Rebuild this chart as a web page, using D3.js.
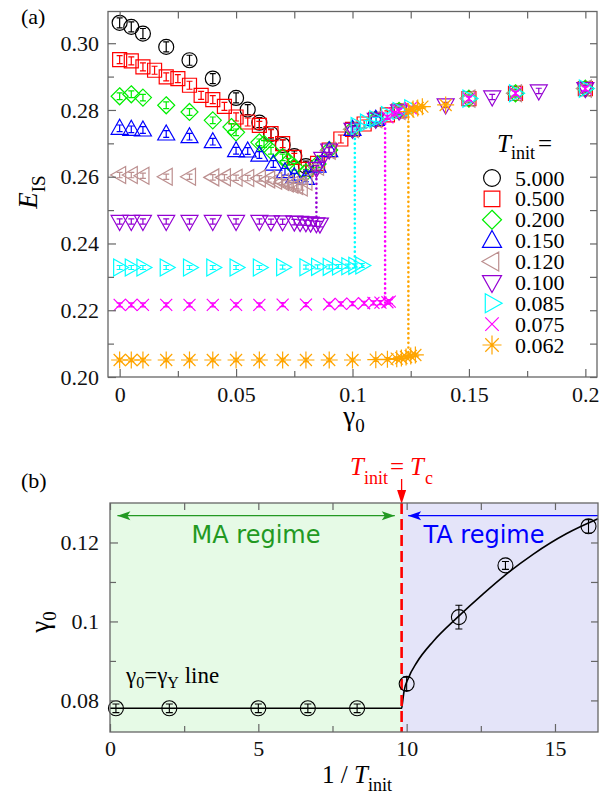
<!DOCTYPE html>
<html>
<head>
<meta charset="utf-8">
<script src="https://cdn.jsdelivr.net/npm/d3@7"></script>
<style>
body { margin: 0; background: #fff; }
svg { display: block; }
svg text { font-family: 'Liberation Serif', 'DejaVu Serif', serif; }
svg text.sans { font-family: 'DejaVu Sans', Verdana, sans-serif; }
</style>
</head>
<body>
<svg id="chart" width="613" height="798"></svg>
<script>
// ---- data, panel (a): E_IS vs gamma0 for each T_init ----
const temps = ['5.000', '0.500', '0.200', '0.150', '0.120', '0.100', '0.085', '0.075', '0.062'];

const s5000 = [[0,.3061],[.005,.3049],[.01,.3029],[.02,.2989],[.03,.2949],[.04,.2894],[.05,.2836],[.055,.2801],
	[.06,.2762],[.065,.2728],[.07,.2695],[.075,.2662],[.08,.2632]];
const s0500 = [[0,.2951],[.005,.2947],[.01,.2929],[.015,.2919],[.02,.2899],[.025,.2894],[.03,.2874],[.035,.2844],
	[.04,.2831],[.045,.2811],[.05,.2779],[.055,.2764],[.06,.2754],[.065,.2729],[.07,.2699],[.075,.2658],[.08,.2622],
	[.085,.2640],[.09,.2680],[.095,.2713],[.1,.2742],[.105,.2758],[.11,.2772],[.115,.2785],[.12,.2797],
	[.15,.2834],[.17,.2850],[.2,.2864]];
const s0200 = [[0,.2841],[.005,.2847],[.01,.2837],[.02,.2814],[.03,.2794],[.04,.2769],[.048,.2749],[.05,.2733],
	[.06,.2703],[.062,.2698],[.065,.2678],[.07,.2658],[.0725,.2645],[.075,.2630],[.08,.2612],[.085,.2638],
	[.09,.2680],[.1,.2742],[.11,.2772],[.12,.2797],[.15,.2834],[.17,.2850],[.2,.2864]];
const s0150 = [[0,.2745],[.005,.2742],[.01,.2740],[.02,.2728],[.03,.2720],[.04,.2705],[.05,.2678],[.055,.2677],
	[.06,.2665],[.066,.2638],[.071,.2615],[.075,.2600],[.08,.2595],[.085,.2632],[.09,.2678],[.1,.2742],[.11,.2772]];
const s0120 = [[0,.2605],[.005,.2605],[.01,.2603],[.02,.2600],[.03,.2600],[.04,.2598],[.045,.2598],[.05,.2597],
	[.055,.2596],[.06,.2595],[.064,.2592],[.067,.2588],[.07,.2584],[.072,.2580],[.074,.2576],[.076,.2572],
	[.078,.2568],[.08,.2585],[.085,.2630],[.09,.2678],[.1,.2742],[.11,.2772],[.12,.2797],[.15,.2834],
	[.17,.2850],[.2,.2864]];
const s0100 = [[0,.2466],[.005,.2466],[.01,.2466],[.02,.2466],[.03,.2466],[.04,.2466],[.05,.2466],[.06,.2466],
	[.065,.2465],[.07,.2465],[.075,.2464],[.0775,.2463],[.08,.2462],[.082,.2461],[.0845,.2459],[.086,.2458],
	[.0845,.2625],[.087,.2655],[.09,.2680],[.1,.2742],[.11,.2772],[.12,.2797],[.14,.2815],[.16,.2839],
	[.18,.2857],[.2,.2864]];
const s0085 = [[0,.2328],[.005,.2328],[.01,.2328],[.02,.2328],[.03,.2328],[.04,.2328],[.05,.2328],[.06,.2328],
	[.07,.2329],[.08,.2329],[.085,.2330],[.09,.2330],[.094,.2331],[.098,.2332],[.101,.2333],[.104,.2334],
	[.102,.2752],[.106,.2762],[.11,.2772],[.115,.2785],[.12,.2797],[.125,.2805],[.15,.2834],[.17,.2850],[.2,.2864]];
const s0075 = [[0,.2216],[.005,.2216],[.01,.2216],[.02,.2216],[.03,.2216],[.04,.2216],[.05,.2216],[.06,.2216],
	[.07,.2217],[.08,.2217],[.09,.2218],[.095,.2219],[.1,.2220],[.105,.2221],[.109,.2222],[.112,.2223],
	[.115,.2224],[.116,.2226],[.115,.2778],[.118,.2790],[.12,.2797],[.125,.2805],[.15,.2834],[.17,.2850],[.2,.2864]];
const s0062 = [[0,.2051],[.005,.2051],[.01,.2051],[.02,.2051],[.03,.2051],[.04,.2051],[.05,.2051],[.06,.2051],
	[.07,.2051],[.08,.2051],[.09,.2051],[.1,.2051],[.11,.2052],[.115,.2053],[.119,.2055],[.121,.2057],
	[.123,.2060],[.125,.2063],[.127,.2066],[.124,.2795],[.126,.2803],[.128,.2806],[.13,.2810],[.14,.2815]];
const seriesA = [s5000, s0500, s0200, s0150, s0120, s0100, s0085, s0075, s0062];
const errA = [0.0015, 0.0012, 0.001, 0.001, 0.0008, 0.0008, 0.0006, 0.0006, 0.0005];

// vertical jumps at the yield point (gamma, lower E, upper E) for T = 0.100, 0.085, 0.075, 0.062
const jumpSeries = [5, 6, 7, 8];
const jumpGamma = [0.0845, 0.101, 0.114, 0.124];
const jumpLow = [0.2466, 0.2333, 0.2223, 0.2060];
const jumpHigh = [0.2625, 0.2745, 0.2778, 0.2795];

const xTicksA = [0, 0.05, 0.1, 0.15, 0.2];
const xTickLabelsA = ['0', '0.05', '0.1', '0.15', '0.2'];
const xMinorA = [0.025, 0.075, 0.125, 0.175];
const yTicksA = [0.2, 0.22, 0.24, 0.26, 0.28, 0.3];
const yTickLabelsA = ['0.20', '0.22', '0.24', '0.26', '0.28', '0.30'];
const yMinorA = [0.21, 0.23, 0.25, 0.27, 0.29];

// ---- data, panel (b): gamma0 at the yield vs 1/T_init ----
const invT = [0.2, 2, 5, 6.67, 8.33, 10, 11.76, 13.33, 16.13];
const gammaYield = [0.0780, 0.0780, 0.0780, 0.0780, 0.0780, 0.0842, 0.1011, 0.1142, 0.1241];
const gammaErr = [0.0011, 0.0011, 0.0011, 0.0011, 0.0011, 0.0017, 0.003, 0.001, 0.0017];
const invTc = 9.83;
// guide line
const fitX = [0, 9.83, 9.87, 9.91, 10.06, 10.34, 10.9, 11.72, 12.58, 13.28, 14.26, 15.38, 16.45];
const fitY = [0.0780, 0.0780, 0.0800, 0.0822, 0.0857, 0.0896, 0.0950, 0.1011, 0.1070, 0.1115, 0.1170, 0.1222, 0.1260];

const xTicksB = [0, 5, 10, 15];
const xTickLabelsB = ['0', '5', '10', '15'];
const xMinorB = [2.5, 7.5, 12.5];
const yTicksB = [0.08, 0.1, 0.12];
const yTickLabelsB = ['0.08', '0.1', '0.12'];
const yMinorB = [0.09, 0.11];

// ---- style ----
const colors = ['#000000', '#ff0000', '#00ee00', '#0000ff', '#bc8f8f', '#9400d3', '#00ffff', '#ff00ff', '#ffa500'];
const shapes = ['circle', 'square', 'diamond', 'up', 'left', 'down', 'right', 'x', 'star'];

const svg = d3.select('#chart');

function markerPath(kind, k) {
	const a = 8.5 * k, b = 9 * k, c = 6 * k;
	switch (kind) {
		case 'circle': { const r = 7.5 * k; return `M${r},0A${r},${r} 0 1,1 ${-r},0A${r},${r} 0 1,1 ${r},0Z`; }
		case 'square': { const h = 7 * k; return `M${-h},${-h}H${h}V${h}H${-h}Z`; }
		case 'diamond': { const h = 8.5 * k; return `M0,${-h}L${h},0L0,${h}L${-h},0Z`; }
		case 'up': return `M0,${-b}L${a},${c}L${-a},${c}Z`;
		case 'down': return `M0,${b}L${a},${-c}L${-a},${-c}Z`;
		case 'left': return `M${-b},0L${c},${-a}L${c},${a}Z`;
		case 'right': return `M${b},0L${-c},${-a}L${-c},${a}Z`;
		case 'x': { const h = 6 * k; return `M${-h},${-h}L${h},${h}M${-h},${h}L${h},${-h}`; }
		case 'star': {
			const h = 8.5 * k, d = 6 * k;
			return `M${-h},0H${h}M0,${-h}V${h}M${-d},${-d}L${d},${d}M${-d},${d}L${d},${-d}`;
		}
	}
}

function errPath(x0, yLo, yHi, w) {
	return `M${x0 - w},${yLo}H${x0 + w}M${x0},${yLo}V${yHi}M${x0 - w},${yHi}H${x0 + w}`;
}

// frame with inward ticks on all four sides
function drawAxes(x, y, o) {
	const g = svg.append('g');
	const [x0, x1] = x.range(), [y0, y1] = y.range();
	const add = (axis, tr) => {
		const a = g.append('g').attr('transform', tr).call(axis);
		a.attr('font-family', null);
		a.select('.domain').remove();
		a.selectAll('line').attr('stroke', '#666').attr('stroke-width', 1.2);
		a.selectAll('text').attr('font-size', 22).attr('fill', '#111');
		return a;
	};
	add(d3.axisBottom(x).tickValues(o.xMaj).tickSize(-8).tickPadding(o.padX)
		.tickFormat((d, i) => o.xLab[i]), `translate(0,${y0})`);
	add(d3.axisBottom(x).tickValues(o.xMin).tickSize(-6).tickFormat(''), `translate(0,${y0})`);
	add(d3.axisTop(x).tickValues(o.xMaj.concat(o.xMin)).tickSize(-7).tickFormat(''), `translate(0,${y1})`);
	add(d3.axisLeft(y).tickValues(o.yMaj).tickSize(-8).tickPadding(o.padY)
		.tickFormat((d, i) => o.yLab[i]), `translate(${x0},0)`);
	add(d3.axisLeft(y).tickValues(o.yMin).tickSize(-6).tickFormat(''), `translate(${x0},0)`);
	add(d3.axisRight(y).tickValues(o.yMaj.concat(o.yMin)).tickSize(-7).tickFormat(''), `translate(${x1},0)`);
	g.append('rect').attr('x', x0).attr('y', y1).attr('width', x1 - x0).attr('height', y0 - y1)
		.attr('fill', 'none').attr('stroke', '#666').attr('stroke-width', 1.3);
}

// ================= panel (a) =================
const xA = d3.scaleLinear().domain([-0.005, 0.205]).range([108, 597]);
const yA = d3.scaleLinear().domain([0.2, 0.3095]).range([377, 11.5]);

const gA = svg.append('g');

// dotted yield jumps
gA.selectAll('line.jump')
	.data(jumpGamma)
	.join('line')
	.attr('class', 'jump')
	.attr('x1', d => xA(d)).attr('x2', d => xA(d))
	.attr('y1', (d, i) => yA(jumpLow[i])).attr('y2', (d, i) => yA(jumpHigh[i]))
	.attr('stroke', (d, i) => colors[jumpSeries[i]])
	.attr('stroke-width', 2.6)
	.attr('stroke-linecap', 'round')
	.attr('stroke-dasharray', '0.1 4.6');

seriesA.forEach((s, i) => {
	const gs = gA.append('g')
		.attr('stroke', colors[i])
		.attr('fill', 'none')
		.attr('stroke-width', 1.2);
	gs.selectAll('path.mk')
		.data(s)
		.join('path')
		.attr('class', 'mk')
		.attr('d', markerPath(shapes[i], 1))
		.attr('transform', d => `translate(${xA(d[0])},${yA(d[1])})`);
	gs.selectAll('path.eb')
		.data(s)
		.join('path')
		.attr('class', 'eb')
		.attr('d', d => errPath(xA(d[0]), yA(d[1] - errA[i]), yA(d[1] + errA[i]), 3));
});

drawAxes(xA, yA, {xMaj: xTicksA, xMin: xMinorA, xLab: xTickLabelsA, padX: 9,
	yMaj: yTicksA, yMin: yMinorA, yLab: yTickLabelsA, padY: 9});

// legend
const legY = d3.scaleLinear().domain([0, 8]).range([178, 345]);
const leg = svg.append('g');
leg.append('text')
	.attr('x', 497).attr('y', 152)
	.attr('font-size', 25)
	.call(t => {
		t.append('tspan').attr('font-style', 'italic').text('T');
		t.append('tspan').attr('font-size', 18).attr('dy', 7).text('init');
		t.append('tspan').attr('dy', -7).attr('dx', 3).text('=');
	});
temps.forEach((t, i) => {
	leg.append('path')
		.attr('d', markerPath(shapes[i], 1.12))
		.attr('transform', `translate(492,${legY(i)})`)
		.attr('fill', 'none').attr('stroke', colors[i]).attr('stroke-width', 1.2);
	leg.append('text')
		.attr('x', 515).attr('y', legY(i) + 7.5)
		.attr('font-size', 22)
		.text(t);
});

// labels (a)
svg.append('text').attr('x', 21).attr('y', 24)
	.attr('font-size', 22).text('(a)');
svg.append('text')
	.attr('transform', 'translate(37,192) rotate(-90)')
	.attr('text-anchor', 'middle')
	.attr('font-size', 27)
	.call(t => {
		t.append('tspan').attr('font-style', 'italic').text('E');
		t.append('tspan').attr('font-size', 19).attr('dy', 8).text('IS');
	});
svg.append('text')
	.attr('x', 354).attr('y', 425)
	.attr('text-anchor', 'middle')
	.attr('font-size', 27)
	.call(t => {
		t.append('tspan').text('γ');
		t.append('tspan').attr('font-size', 19).attr('dy', 7).text('0');
	});

// ================= panel (b) =================
const xB = d3.scaleLinear().domain([0, 16.45]).range([110, 598]);
const yB = d3.scaleLinear().domain([0.072, 0.13]).range([732, 503]);

const gB = svg.append('g');
gB.append('rect')
	.attr('x', xB(0)).attr('y', yB(0.13))
	.attr('width', xB(invTc) - xB(0)).attr('height', yB(0.072) - yB(0.13))
	.attr('fill', '#e6fae6');
gB.append('rect')
	.attr('x', xB(invTc)).attr('y', yB(0.13))
	.attr('width', xB(16.45) - xB(invTc)).attr('height', yB(0.072) - yB(0.13))
	.attr('fill', '#e4e4f9');

drawAxes(xB, yB, {xMaj: xTicksB, xMin: xMinorB, xLab: xTickLabelsB, padX: 8,
	yMaj: yTicksB, yMin: yMinorB, yLab: yTickLabelsB, padY: 11});

// guide line
const fitLine = d3.line()
	.x(d => xB(d[0]))
	.y(d => yB(d[1]))
	.curve(d3.curveMonotoneX);
gB.append('path')
	.datum(fitX.map((v, i) => [v, fitY[i]]))
	.attr('d', fitLine)
	.attr('fill', 'none').attr('stroke', '#000').attr('stroke-width', 1.6);

// T_init = T_c
gB.append('line')
	.attr('x1', xB(invTc)).attr('x2', xB(invTc))
	.attr('y1', yB(0.13)).attr('y2', yB(0.072))
	.attr('stroke', '#ff0000').attr('stroke-width', 2.6)
	.attr('stroke-dasharray', '11 5');

// data points
gB.selectAll('circle.pt')
	.data(invT)
	.join('circle')
	.attr('class', 'pt')
	.attr('cx', d => xB(d)).attr('cy', (d, i) => yB(gammaYield[i]))
	.attr('r', 7.5)
	.attr('fill', 'none').attr('stroke', '#000').attr('stroke-width', 1.1);
gB.selectAll('path.eb')
	.data(invT)
	.join('path')
	.attr('class', 'eb')
	.attr('d', (d, i) => errPath(xB(d), yB(gammaYield[i] - gammaErr[i]), yB(gammaYield[i] + gammaErr[i]), 3.5))
	.attr('fill', 'none').attr('stroke', '#000').attr('stroke-width', 1.1);

// regime arrows
function arrowHead(g, xTip, yTip, dir, color) {
	g.append('path')
		.attr('d', `M${xTip},${yTip}L${xTip - dir * 13},${yTip - 4.5}L${xTip - dir * 10},${yTip}L${xTip - dir * 13},${yTip + 4.5}Z`)
		.attr('fill', color).attr('stroke', 'none');
}
const arrowY = yB(0.1268);
const green = '#229922';
gB.append('line')
	.attr('x1', xB(0.25)).attr('x2', xB(9.6)).attr('y1', arrowY).attr('y2', arrowY)
	.attr('stroke', green).attr('stroke-width', 1.4);
arrowHead(gB, xB(0.25), arrowY, -1, green);
arrowHead(gB, xB(9.6), arrowY, 1, green);
gB.append('line')
	.attr('x1', xB(10.05)).attr('x2', xB(16.45)).attr('y1', arrowY).attr('y2', arrowY)
	.attr('stroke', '#0000ff').attr('stroke-width', 1.4);
arrowHead(gB, xB(10.05), arrowY, -1, '#0000ff');

gB.append('text')
	.attr('class', 'sans')
	.attr('x', 256).attr('y', 543).attr('text-anchor', 'middle')
	.attr('font-size', 24).attr('fill', green)
	.text('MA regime');
gB.append('text')
	.attr('class', 'sans')
	.attr('x', 484).attr('y', 543).attr('text-anchor', 'middle')
	.attr('font-size', 24).attr('fill', '#0000ff')
	.text('TA regime');

gB.append('text')
	.attr('x', 126).attr('y', 683)
	.attr('font-size', 23)
	.call(t => {
		t.append('tspan').text('γ');
		t.append('tspan').attr('font-size', 16).attr('dy', 5).text('0');
		t.append('tspan').attr('dy', -5).text('=γ');
		t.append('tspan').attr('font-size', 16).attr('dy', 5).text('Y');
		t.append('tspan').attr('dy', -5).text(' line');
	});

// red Tc marker above the frame
const xTc = xB(invTc);
gB.append('line')
	.attr('x1', xTc).attr('x2', xTc).attr('y1', 479).attr('y2', 492)
	.attr('stroke', '#ff0000').attr('stroke-width', 1.3);
gB.append('path')
	.attr('d', `M${xTc - 4.5},${490}L${xTc + 4.5},${490}L${xTc},${504}Z`)
	.attr('fill', '#ff0000');
gB.append('text')
	.attr('x', 350).attr('y', 475)
	.attr('font-size', 25).attr('fill', '#ff0000')
	.call(t => {
		t.append('tspan').attr('font-style', 'italic').text('T');
		t.append('tspan').attr('font-size', 18).attr('dy', 9).text('init');
		t.append('tspan').attr('dy', -9).attr('dx', 2).text('=');
		t.append('tspan').attr('font-style', 'italic').attr('dx', 6).text('T');
		t.append('tspan').attr('font-size', 18).attr('dy', 9).attr('dx', 1).text('c');
	});

// labels (b)
svg.append('text').attr('x', 21).attr('y', 488)
	.attr('font-size', 22).text('(b)');
svg.append('text')
	.attr('transform', 'translate(49,622) rotate(-90)')
	.attr('text-anchor', 'middle')
	.attr('font-size', 27)
	.call(t => {
		t.append('tspan').text('γ');
		t.append('tspan').attr('font-size', 19).attr('dy', 7).text('0');
	});
svg.append('text')
	.attr('x', 357).attr('y', 783)
	.attr('text-anchor', 'middle')
	.attr('font-size', 25)
	.call(t => {
		t.append('tspan').text('1 / ');
		t.append('tspan').attr('font-style', 'italic').text('T');
		t.append('tspan').attr('font-size', 18).attr('dy', 8).text('init');
	});
</script>
</body>
</html>
